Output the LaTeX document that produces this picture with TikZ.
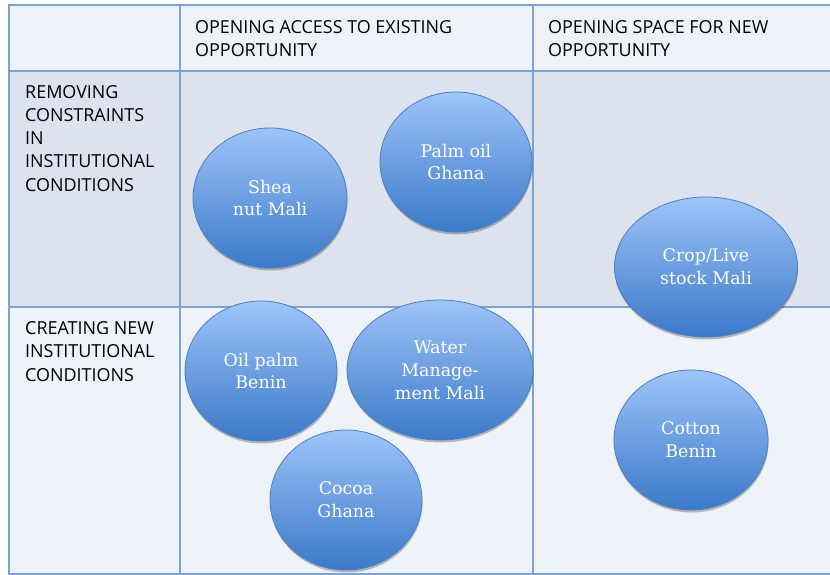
\documentclass[tikz,border=0pt]{standalone}
\usepackage{fontspec}
\setmainfont{DejaVu Serif}
\newfontfamily\hdrfont{Open Sans}
\usetikzlibrary{shapes.geometric,shadows}
\definecolor{hdr}{HTML}{EEF2F9}
\definecolor{rowa}{HTML}{DCE3EE}
\definecolor{gridc}{HTML}{7FA3D1}
\definecolor{bubtop}{HTML}{9EC4FA}
\definecolor{bubbot}{HTML}{3B79C8}
\definecolor{bubedge}{HTML}{4D7FBF}
\tikzset{
  gridline/.style={draw=gridc, line width=2bp},
  lbl/.style={anchor=north west, inner sep=0pt, align=left, text=black,
    font=\hdrfont\fontsize{18}{23.3}\selectfont},
  bub/.style={ellipse, inner sep=0pt, draw=bubedge, line width=0.8bp,
    top color=bubtop, bottom color=bubbot, text=white, align=center,
    font=\fontsize{17.5}{23}\selectfont,
    drop shadow={shadow xshift=0.5bp, shadow yshift=-2.5bp, opacity=0.25, fill=black}}
}
\begin{document}
\begin{tikzpicture}[x=1bp,y=-1bp]
\useasboundingbox (0,0) rectangle (830,575);
\fill[white] (0,0) rectangle (830,575);
\fill[hdr] (9,5) rectangle (830,71);
\fill[rowa] (9,71) rectangle (830,307);
\fill[hdr] (9,307) rectangle (830,574);
\draw[gridline] (830,5) -- (9,5) -- (9,574) -- (830,574);
\draw[gridline] (9,71) -- (830,71);
\draw[gridline] (9,307) -- (830,307);
\draw[gridline] (180,5) -- (180,574);
\draw[gridline] (533,5) -- (533,574);
% labels
\node[lbl] (h1) at (195,20.5) {OPENING ACCESS TO EXISTING\\OPPORTUNITY};
\node[lbl] (h2) at (548,20.5) {OPENING SPACE FOR NEW\\OPPORTUNITY};
\node[lbl] (r1) at (25,85) {REMOVING\\CONSTRAINTS\\IN\\INSTITUTIONAL\\CONDITIONS};
\node[lbl] (r2) at (25,321.5) {CREATING NEW\\INSTITUTIONAL\\CONDITIONS};
% bubbles
\node[bub, minimum width=154bp, minimum height=140bp] (shea) at (270,198) {Shea\\nut Mali};
\node[bub, minimum width=152bp, minimum height=140bp] (palm) at (456,162) {Palm oil\\Ghana};
\node[bub, minimum width=183bp, minimum height=140bp] (crop) at (706,267) {Crop/Live\\stock Mali};
\node[bub, minimum width=152bp, minimum height=140bp] (oil) at (261,371) {Oil palm\\Benin};
\node[bub, minimum width=186bp, minimum height=140bp] (water) at (440,370) {Water\\Manage-\\ment Mali};
\node[bub, minimum width=152bp, minimum height=140bp] (cocoa) at (346,500) {Cocoa\\Ghana};
\node[bub, minimum width=154bp, minimum height=140bp] (cotton) at (691,440) {Cotton\\Benin};
\end{tikzpicture}
\end{document}
